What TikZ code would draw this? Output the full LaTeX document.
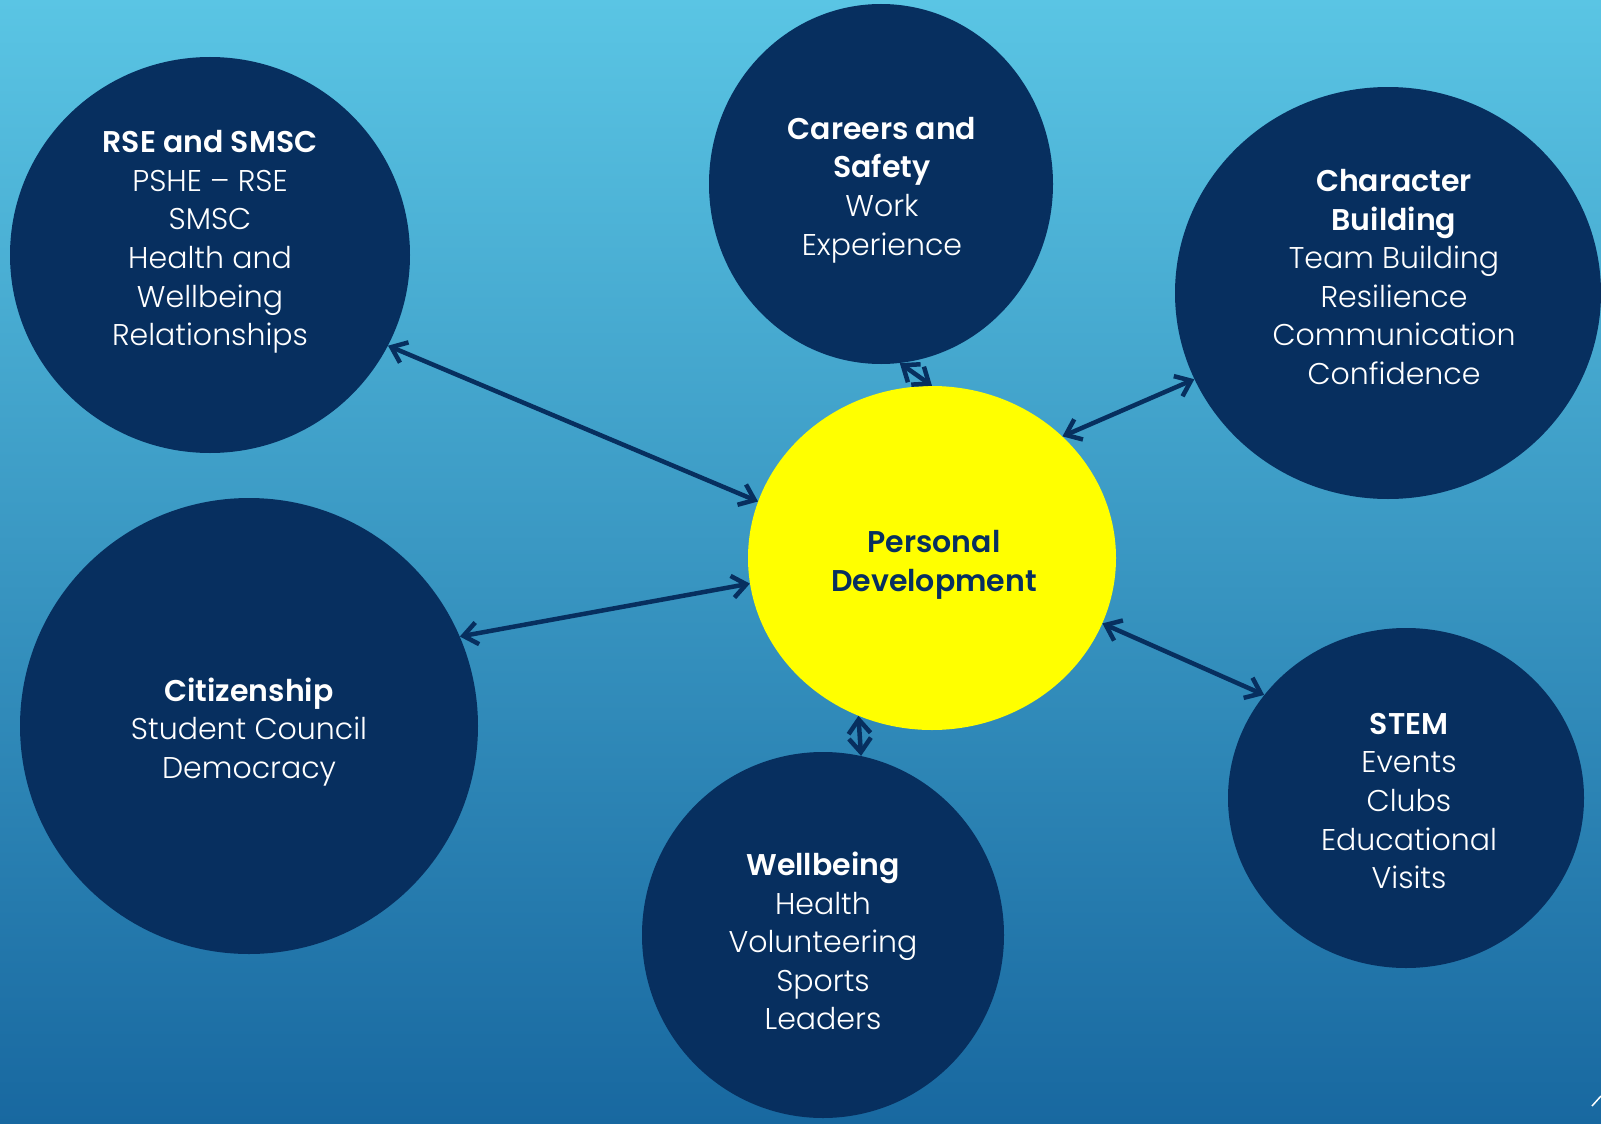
\documentclass[tikz,border=0pt]{standalone}
\usepackage{fontspec}
\setmainfont{Poppins}[UprightFont=* Light, BoldFont=* SemiBold]
\usepackage{tikz}
\usetikzlibrary{arrows.meta,shapes.geometric}
\definecolor{bgtop}{RGB}{90, 197, 228}
\definecolor{bgbot}{RGB}{24, 104, 160}
\definecolor{pdnavy}{RGB}{7, 47, 95}
\definecolor{pdyellow}{RGB}{255, 255, 0}

\begin{document}
\begin{tikzpicture}[x=1pt, y=-1pt,
  blob/.style={ellipse, fill=pdnavy, inner sep=0pt},
  txt/.style={align=center, text=white, inner sep=0pt, font=\fontsize{30}{38.6}\selectfont},
  link/.style={pdnavy, line width=4.5pt, {Straight Barb[length=14pt,width=22pt]}-{Straight Barb[length=14pt,width=22pt]}}]
% Background
\useasboundingbox (0,0) rectangle (1601,1124);
\clip (0,0) rectangle (1601,1124);
\shade[top color=bgtop, bottom color=bgbot] (0,0) rectangle (1601,1124);

% Circles
\node[blob, minimum width=400pt, minimum height=396pt] (rse) at (210,255) {};
\node[blob, minimum width=344pt, minimum height=360pt] (careers) at (881,184) {};
\node[blob, minimum width=426pt, minimum height=412pt] (charb) at (1388,293) {};
\node[blob, minimum width=458pt, minimum height=456pt] (citizen) at (249,726) {};
\node[blob, minimum width=362pt, minimum height=366pt] (wellb) at (823,935) {};
\node[blob, minimum width=356pt, minimum height=340pt] (stem) at (1406,798) {};
\node[ellipse, fill=pdyellow, inner sep=0pt, minimum width=368pt, minimum height=344pt] (pd) at (932,558) {};

% Texts
\node[txt] (rsetxt) at (210,242) {\textbf{RSE and SMSC}\\PSHE – RSE\\SMSC\\Health and\\Wellbeing\\Relationships};
\node[txt] (careerstxt) at (882,190) {\textbf{Careers and}\\\textbf{Safety}\\Work\\Experience};
\node[txt] (charbtxt) at (1394,277) {\textbf{Character}\\\textbf{Building}\\Team Building\\Resilience\\Communication\\Confidence};
\node[txt, text=pdnavy] (pdtxt) at (934,565) {\textbf{Personal}\\\textbf{Development}};
\node[txt] (citizentxt) at (249,732) {\textbf{Citizenship}\\Student Council\\Democracy};
\node[txt] (wellbtxt) at (823,941) {\textbf{Wellbeing}\\Health\\Volunteering\\Sports\\Leaders};
\node[txt] (stemtxt) at (1409,801) {\textbf{STEM}\\Events\\Clubs\\Educational\\Visits};

% Links
\draw[link] (rse.-27.6) -- (pd.162.6);
\draw[link] (careers.-84) -- (pd.90);
\draw[link] (charb.-156) -- (pd.43);
\draw[link] (citizen.23) -- (pd.188);
\draw[link] (wellb.78) -- (pd.245);
\draw[link] (stem.144) -- (pd.-21);

% Corner mark
\draw[white, line width=1.5pt] (1592,1106) -- (1601,1096);
\end{tikzpicture}
\end{document}
